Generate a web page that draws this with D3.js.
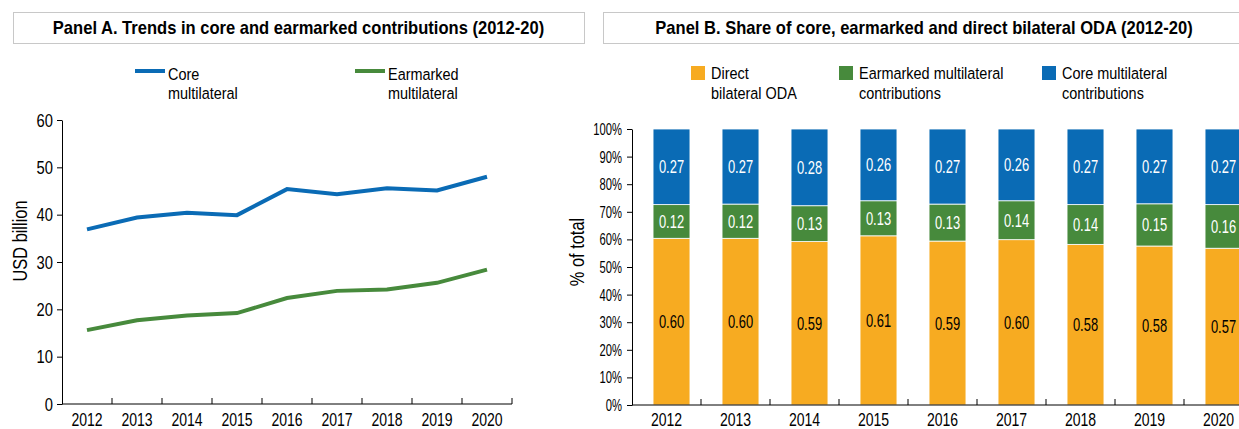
<!DOCTYPE html>
<html>
<head>
<meta charset="utf-8">
<script src="https://cdn.jsdelivr.net/npm/d3@7"></script>
<style>
  html, body { margin: 0; padding: 0; background: #fff; }
  svg { display: block; font-family: "Liberation Sans", Arial, sans-serif; }
</style>
</head>
<body>
<svg id="chart" width="1239" height="429"></svg>
<script>
// ---- Data ----
const years = ["2012","2013","2014","2015","2016","2017","2018","2019","2020"];
// Panel A (USD billion)
const coreMultilateral = [36.9, 39.4, 40.4, 39.9, 45.4, 44.3, 45.6, 45.1, 48.0];
const earmarkedMultilateral = [15.6, 17.7, 18.7, 19.2, 22.4, 23.9, 24.2, 25.6, 28.4];
const panelAYTicks = [0, 10, 20, 30, 40, 50, 60];
// Panel B (share of total)
const directBilateral = [0.604, 0.604, 0.592, 0.613, 0.594, 0.599, 0.582, 0.576, 0.568];
const earmarkedShare  = [0.122, 0.124, 0.130, 0.127, 0.134, 0.141, 0.144, 0.153, 0.158];
const coreShare       = [0.274, 0.272, 0.278, 0.260, 0.272, 0.260, 0.274, 0.271, 0.274];
const panelBYTicks = [0, 0.1, 0.2, 0.3, 0.4, 0.5, 0.6, 0.7, 0.8, 0.9, 1.0];

const titleA = "Panel A. Trends in core and earmarked contributions (2012-20)";
const titleB = "Panel B. Share of core, earmarked and direct bilateral ODA (2012-20)";

const C_BLUE = "#0a6bb5", C_GREEN = "#478a3c", C_ORANGE = "#f7ab21";

const svg = d3.select("#chart");

// narrow text helper (horizontal condensing, since no narrow font is installed)
function T(parent, x, y, str, o) {
  o = o || {};
  const sx = o.sx || 0.82;
  const rot = o.rotate ? ` rotate(${o.rotate})` : "";
  return parent.append("text")
    .attr("transform", `translate(${x},${y})${rot} scale(${sx},1)`)
    .attr("text-anchor", o.anchor || "start")
    .attr("font-size", o.size || 17)
    .attr("font-weight", o.weight || "normal")
    .attr("fill", o.fill || "#000")
    .text(str);
}

// ---- Title boxes ----
function titleBox(x0, x1, text) {
  svg.append("rect").attr("x", x0 + 0.5).attr("y", 12.5).attr("width", x1 - x0).attr("height", 31)
    .attr("fill", "#fff").attr("stroke", "#c8c8c8").attr("stroke-width", 1);
  T(svg, (x0 + x1) / 2, 33.5, text, {anchor: "middle", size: 18, weight: "bold", sx: 0.92});
}
titleBox(13, 584, titleA);
titleBox(603, 1245, titleB);

// ================= Panel A =================
const xA = d3.scaleBand().domain(years).range([62, 512]);
const yA = d3.scaleLinear().domain([0, 60]).range([404, 120]);

const gA = svg.append("g");
// y axis
gA.append("g").attr("transform", `translate(${xA.range()[0]},0)`)
  .call(d3.axisLeft(yA).tickValues(panelAYTicks).tickSize(5).tickSizeOuter(0).tickFormat(""))
  .call(g => g.select(".domain").attr("stroke", "#000"))
  .call(g => g.selectAll(".tick line").attr("stroke", "#000"));
panelAYTicks.forEach(v => T(gA, 53, yA(v) + 6.5, String(v), {anchor: "end", size: 18, sx: 0.82}));
// x axis: labels at centres, ticks at band edges
gA.append("line").attr("x1", xA.range()[0]).attr("x2", xA.range()[1]).attr("y1", yA(0)).attr("y2", yA(0)).attr("stroke", "#000");
gA.selectAll(".xedge").data(years.slice(1).concat(["end"])).enter().append("line")
  .attr("x1", d => d === "end" ? xA.range()[1] : xA(d)).attr("x2", d => d === "end" ? xA.range()[1] : xA(d))
  .attr("y1", yA(0)).attr("y2", yA(0) - 6).attr("stroke", "#000");
years.forEach(y => T(gA, xA(y) + xA.bandwidth() / 2, 426, y, {anchor: "middle", size: 18, sx: 0.78}));
T(gA, 27, 241, "USD billion", {anchor: "middle", size: 20, rotate: -90, sx: 0.82});

const lineA = d3.line().x((d, i) => xA(years[i]) + xA.bandwidth() / 2).y(d => yA(d));
gA.append("path").datum(earmarkedMultilateral).attr("d", lineA).attr("fill", "none")
  .attr("stroke", C_GREEN).attr("stroke-width", 4);
gA.append("path").datum(coreMultilateral).attr("d", lineA).attr("fill", "none")
  .attr("stroke", C_BLUE).attr("stroke-width", 4);

// legend A
const legA = [
  {x: 135, color: C_BLUE, lines: ["Core", "multilateral"]},
  {x: 355, color: C_GREEN, lines: ["Earmarked", "multilateral"]}
];
legA.forEach(l => {
  svg.append("line").attr("x1", l.x).attr("x2", l.x + 30).attr("y1", 71).attr("y2", 71)
    .attr("stroke", l.color).attr("stroke-width", 4);
  l.lines.forEach((t, i) => T(svg, l.x + 33, 80 + i * 19, t, {size: 17, sx: 0.85}));
});

// ================= Panel B =================
const xB = d3.scaleBand().domain(years).range([632, 1253]);
const yB = d3.scaleLinear().domain([0, 1]).range([405, 129]);
const gB = svg.append("g");

gB.append("g").attr("transform", `translate(${xB.range()[0]},0)`)
  .call(d3.axisLeft(yB).tickValues(panelBYTicks).tickSize(5).tickSizeOuter(0).tickFormat(""))
  .call(g => g.select(".domain").attr("stroke", "#000"))
  .call(g => g.selectAll(".tick line").attr("stroke", "#000"));
const pct = d3.format(".0%");
panelBYTicks.forEach(v => T(gB, 622, yB(v) + 6, pct(v), {anchor: "end", size: 17, sx: 0.66}));
T(gB, 584, 252, "% of total", {anchor: "middle", size: 20, rotate: -90, sx: 0.82});

const seriesB = [
  {key: "Direct bilateral ODA", values: directBilateral, color: C_ORANGE, text: "#000"},
  {key: "Earmarked multilateral contributions", values: earmarkedShare, color: C_GREEN, text: "#fff"},
  {key: "Core multilateral contributions", values: coreShare, color: C_BLUE, text: "#fff"}
];
const rows = years.map((y, i) => ({year: y, s0: directBilateral[i], s1: earmarkedShare[i], s2: coreShare[i]}));
const stack = d3.stack().keys(["s0", "s1", "s2"])(rows);
const barX = d => xB(d.data.year) + xB.bandwidth() * 0.305;
const barW = xB.bandwidth() * 0.535;
const f2 = d3.format(".2f");
stack.forEach((layer, li) => {
  const s = seriesB[li];
  const g = gB.append("g");
  g.selectAll("rect").data(layer).enter().append("rect")
    .attr("x", barX).attr("width", barW)
    .attr("y", d => yB(d[1])).attr("height", d => yB(d[0]) - yB(d[1]))
    .attr("fill", s.color).attr("stroke", "#fff").attr("stroke-width", 0.8);
  layer.forEach(d => T(g, barX(d) + barW / 2, (yB(d[0]) + yB(d[1])) / 2 + 6.5, f2(d[1] - d[0]),
    {anchor: "middle", size: 18, sx: 0.72, fill: s.text}));
});

// x axis B
gB.append("line").attr("x1", xB.range()[0]).attr("x2", xB.range()[1]).attr("y1", yB(0)).attr("y2", yB(0)).attr("stroke", "#000");
gB.selectAll(".xedge").data(years.slice(1)).enter().append("line")
  .attr("x1", d => xB(d)).attr("x2", d => xB(d))
  .attr("y1", yB(0)).attr("y2", yB(0) - 6).attr("stroke", "#000");
years.forEach(y => T(gB, xB(y) + xB.bandwidth() / 2, 426, y, {anchor: "middle", size: 18, sx: 0.78}));

// legend B
const legB = [
  {x: 691, s: seriesB[0], lines: ["Direct", "bilateral ODA"]},
  {x: 839, s: seriesB[1], lines: ["Earmarked multilateral", "contributions"]},
  {x: 1042, s: seriesB[2], lines: ["Core multilateral", "contributions"]}
];
legB.forEach(l => {
  svg.append("rect").attr("x", l.x).attr("y", 66).attr("width", 14).attr("height", 14).attr("fill", l.s.color);
  l.lines.forEach((t, i) => T(svg, l.x + 20, 79 + i * 20, t, {size: 17, sx: 0.85}));
});
</script>
</body>
</html>
